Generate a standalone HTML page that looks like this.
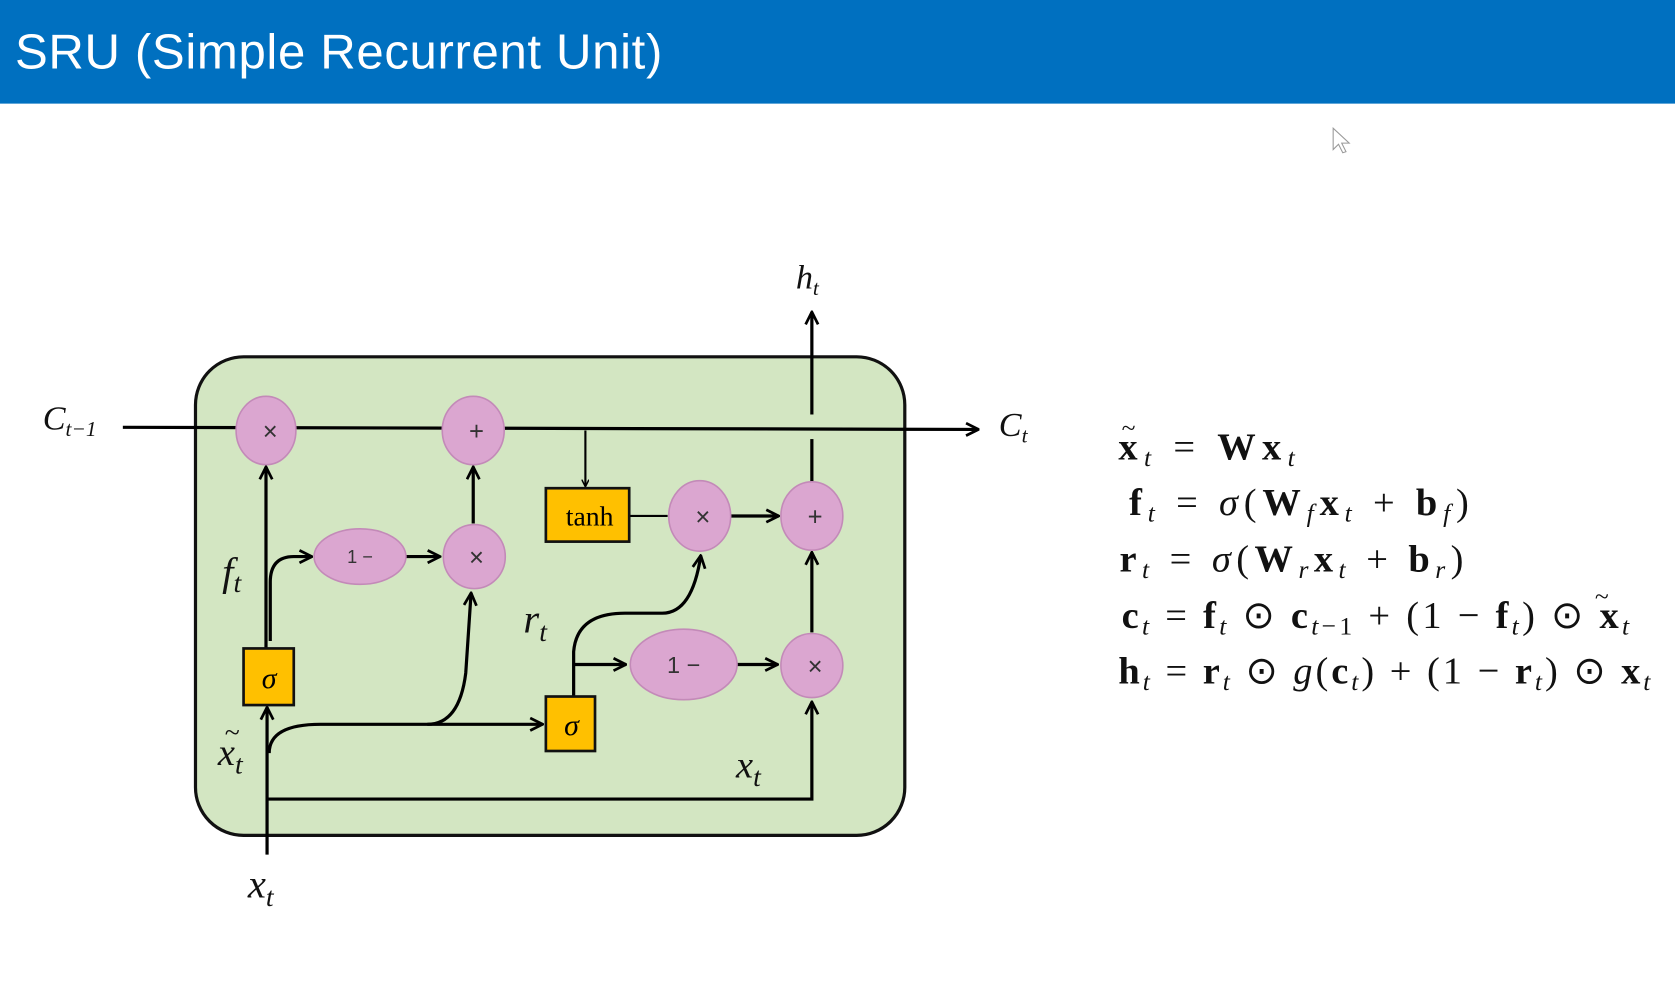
<!DOCTYPE html>
<html><head><meta charset="utf-8"><style>
html,body{margin:0;padding:0;background:#fff;overflow:hidden}
svg{display:block}
.m{font-family:"Liberation Serif",serif;font-style:italic}
.eq{font-family:"Liberation Serif",serif;font-size:36px}
.b{font-weight:bold;font-style:normal}
.i{font-style:italic}
</style></head><body>
<svg width="1675" height="1006" viewBox="0 0 1568 941.7" preserveAspectRatio="none" xmlns="http://www.w3.org/2000/svg">
<defs>
<marker id="a" viewBox="0 0 10 10" refX="9" refY="5" markerWidth="7" markerHeight="7" orient="auto" markerUnits="userSpaceOnUse">
<path d="M0,0 L10,5 L0,10" fill="none" stroke="#000" stroke-width="2"/></marker>
<marker id="A" viewBox="0 0 12 12" refX="11" refY="6" markerWidth="14" markerHeight="14" orient="auto" markerUnits="userSpaceOnUse">
<path d="M1,1 L11,6 L1,11" fill="none" stroke="#000" stroke-width="2.2"/></marker>
</defs>
<rect x="0" y="0" width="1568" height="97" fill="#0070c0"/>
<text x="14" y="64" fill="#fff" font-family="Liberation Sans,sans-serif" font-size="46" textLength="606">SRU (Simple Recurrent Unit)</text>
<path d="M1248,120 l0,20 l5,-5 l4,8 l3,-1 l-4,-8 l7,0 z" fill="#fff" stroke="#999" stroke-width="1"/>

<rect x="183" y="334" width="664" height="448" rx="45" fill="#d3e6c2" stroke="#111" stroke-width="3"/>

<g stroke="#000" stroke-width="3" fill="none">
<path d="M115,400 L916,402" marker-end="url(#A)"/>
<path d="M760,451 L760,411"/>
<path d="M760,388 L760,292" marker-end="url(#A)"/>
<path d="M548,403 L548,455" stroke-width="2" marker-end="url(#a)"/>
<path d="M589,483 L625,483" stroke-width="2"/>
<path d="M684,483 L729,483" marker-end="url(#A)"/>
<path d="M760,592 L760,517" marker-end="url(#A)"/>
<path d="M249,607 L249,437" marker-end="url(#A)"/>
<path d="M253,600 L253,545 Q253,521 275,521 L292,521" marker-end="url(#A)"/>
<path d="M380,521 L412,521" marker-end="url(#A)"/>
<path d="M443,490 L443,437" marker-end="url(#A)"/>
<path d="M250,800 L250,662" marker-end="url(#A)"/>
<path d="M252,705 Q252,678 300,678 L508,678" marker-end="url(#A)"/>
<path d="M400,678 Q430,678 436,630 L441,555" marker-end="url(#A)"/>
<path d="M537,652 L537,610 Q540,574 585,574 L620,574 Q648,574 656,520" marker-end="url(#A)"/>
<path d="M537,622 L586,622" marker-end="url(#A)"/>
<path d="M690,622 L728,622" marker-end="url(#A)"/>
<path d="M250,748 L760,748 L760,657" marker-end="url(#A)"/>
</g>

<g fill="#dba6d0" stroke="#c38ab8" stroke-width="1.5">
<ellipse cx="249" cy="403" rx="28" ry="32"/>
<ellipse cx="443" cy="403" rx="29" ry="32"/>
<ellipse cx="444" cy="521" rx="29" ry="30"/>
<ellipse cx="337" cy="521" rx="43" ry="26"/>
<ellipse cx="655" cy="483" rx="29" ry="33"/>
<ellipse cx="760" cy="483" rx="29" ry="32"/>
<ellipse cx="640" cy="622" rx="50" ry="33"/>
<ellipse cx="760" cy="623" rx="29" ry="30"/>
</g>
<g fill="#ffc000" stroke="#111" stroke-width="2.5">
<rect x="511" y="457" width="78" height="50"/>
<rect x="228" y="607" width="47" height="53"/>
<rect x="511" y="652" width="46" height="51"/>
</g>
<g font-family="Liberation Sans,sans-serif" fill="#333" text-anchor="middle">
<text x="253" y="412" font-size="24">×</text>
<text x="446" y="412" font-size="24">+</text>
<text x="446" y="530" font-size="24">×</text>
<text x="658" y="492" font-size="24">×</text>
<text x="763" y="492" font-size="24">+</text>
<text x="763" y="632" font-size="24">×</text>
<text x="337" y="527" font-size="17">1 −</text>
<text x="640" y="630" font-size="22">1 −</text>
</g>
<text x="552" y="492" font-family="Liberation Serif,serif" font-size="26" text-anchor="middle">tanh</text>
<text x="252" y="644" class="m" font-size="28" text-anchor="middle">σ</text>
<text x="535" y="688" class="m" font-size="28" text-anchor="middle">σ</text>

<g class="m" fill="#111">
<text x="40" y="402" font-size="32">C<tspan font-size="20" dy="6">t−1</tspan></text>
<text x="935" y="408" font-size="32">C<tspan font-size="20" dy="6">t</tspan></text>
<text x="745" y="270" font-size="32">h<tspan font-size="20" dy="6">t</tspan></text>
<text x="208" y="548" font-size="38">f<tspan font-size="26" dy="6">t</tspan></text>
<text x="490" y="592" font-size="38">r<tspan font-size="26" dy="8">t</tspan></text>
<text x="204" y="716" font-size="36">x<tspan font-size="26" dy="8">t</tspan></text>
<text x="210" y="694" font-size="26">~</text>
<text x="689" y="728" font-size="36">x<tspan font-size="26" dy="8">t</tspan></text>
<text x="232" y="840" font-size="38">x<tspan font-size="26" dy="8">t</tspan></text>
</g>

<g class="eq" fill="#111">
<text x="1047" y="430" textLength="165" lengthAdjust="spacing"><tspan class="b">x</tspan><tspan class="i" font-size="24" dy="6">t</tspan><tspan dy="-6"> = </tspan><tspan class="b">Wx</tspan><tspan class="i" font-size="24" dy="6">t</tspan></text>
<text x="1050" y="408" font-size="24">~</text>
<text x="1057" y="482" textLength="318" lengthAdjust="spacing"><tspan class="b">f</tspan><tspan class="i" font-size="24" dy="6">t</tspan><tspan dy="-6"> = </tspan><tspan class="i">σ</tspan>(<tspan class="b">W</tspan><tspan class="i" font-size="24" dy="6">f</tspan><tspan class="b" dy="-6">x</tspan><tspan class="i" font-size="24" dy="6">t</tspan><tspan dy="-6"> + </tspan><tspan class="b">b</tspan><tspan class="i" font-size="24" dy="6">f</tspan><tspan dy="-6">)</tspan></text>
<text x="1048" y="535" textLength="322" lengthAdjust="spacing"><tspan class="b">r</tspan><tspan class="i" font-size="24" dy="6">t</tspan><tspan dy="-6"> = </tspan><tspan class="i">σ</tspan>(<tspan class="b">W</tspan><tspan class="i" font-size="24" dy="6">r</tspan><tspan class="b" dy="-6">x</tspan><tspan class="i" font-size="24" dy="6">t</tspan><tspan dy="-6"> + </tspan><tspan class="b">b</tspan><tspan class="i" font-size="24" dy="6">r</tspan><tspan dy="-6">)</tspan></text>
<text x="1050" y="588" textLength="475" lengthAdjust="spacing"><tspan class="b">c</tspan><tspan class="i" font-size="24" dy="6">t</tspan><tspan dy="-6"> = </tspan><tspan class="b">f</tspan><tspan class="i" font-size="24" dy="6">t</tspan><tspan dy="-6"> ⊙ </tspan><tspan class="b">c</tspan><tspan font-size="24" dy="6"><tspan class="i">t</tspan>−1</tspan><tspan dy="-6"> + (1 − </tspan><tspan class="b">f</tspan><tspan class="i" font-size="24" dy="6">t</tspan><tspan dy="-6">) ⊙ </tspan><tspan class="b">x</tspan><tspan class="i" font-size="24" dy="6">t</tspan></text>
<text x="1493" y="566" font-size="24">~</text>
<text x="1047" y="640" textLength="498" lengthAdjust="spacing"><tspan class="b">h</tspan><tspan class="i" font-size="24" dy="6">t</tspan><tspan dy="-6"> = </tspan><tspan class="b">r</tspan><tspan class="i" font-size="24" dy="6">t</tspan><tspan dy="-6"> ⊙ </tspan><tspan class="i">g</tspan>(<tspan class="b">c</tspan><tspan class="i" font-size="24" dy="6">t</tspan><tspan dy="-6">) + (1 − </tspan><tspan class="b">r</tspan><tspan class="i" font-size="24" dy="6">t</tspan><tspan dy="-6">) ⊙ </tspan><tspan class="b">x</tspan><tspan class="i" font-size="24" dy="6">t</tspan></text>
</g>
</svg>
</body></html>
